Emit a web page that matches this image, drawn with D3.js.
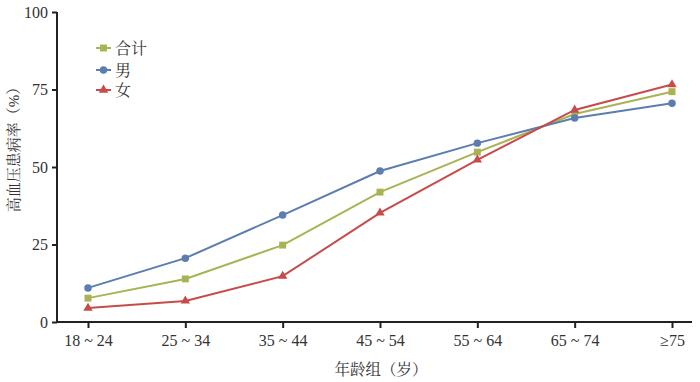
<!DOCTYPE html>
<html>
<head>
<meta charset="utf-8">
<script src="https://cdn.jsdelivr.net/npm/d3@7"></script>
<style>
body { margin: 0; background: #fff; }
svg text { font-family: "Liberation Serif", "Noto Serif CJK SC", "Noto Sans CJK SC", serif; fill: #333; }
</style>
</head>
<body>
<svg width="700" height="382"></svg>
<script>
// data
var ageGroups = ['18 ~ 24', '25 ~ 34', '35 ~ 44', '45 ~ 54', '55 ~ 64', '65 ~ 74', '≥75'];
var total  = [7.7, 13.9, 24.8, 41.9, 54.8, 67.1, 74.3];
var male   = [11.0, 20.6, 34.5, 48.7, 57.7, 65.8, 70.6];
var female = [4.5, 6.8, 14.8, 35.2, 52.3, 68.4, 76.6];
var yTicks = [0, 25, 50, 75, 100];

var series = [
    {name: '合计', values: total, color: '#a9b353', symbol: d3.symbolSquare, size: 48},
    {name: '男', values: male, color: '#5b7daf', symbol: d3.symbolCircle, size: 44},
    {name: '女', values: female, color: '#c84a4a', symbol: d3.symbolTriangle, size: 38}
];

var svg = d3.select('svg');

var x = d3.scalePoint().domain(ageGroups).range([88, 672]);
var y = d3.scaleLinear().domain([0, 100]).range([322, 12]);

// y axis
var yAxis = svg.append('g').attr('class', 'y axis')
    .attr('transform', 'translate(57,0)')
    .call(d3.axisLeft(y).tickValues(yTicks).tickSize(5).tickPadding(4));
yAxis.select('.domain').attr('stroke', '#222').attr('stroke-width', 2).attr('d', 'M0,12V322');
yAxis.selectAll('.tick line').attr('stroke', '#222').attr('stroke-width', 2);
yAxis.selectAll('.tick text').style('font-size', '16px');

// x axis
var xAxis = svg.append('g').attr('class', 'x axis')
    .attr('transform', 'translate(0,322)')
    .call(d3.axisBottom(x).tickSize(6).tickPadding(7));
xAxis.select('.domain').attr('stroke', '#222').attr('stroke-width', 2).attr('d', 'M56,0H692');
xAxis.selectAll('.tick line').attr('stroke', '#222').attr('stroke-width', 2);
xAxis.selectAll('.tick text').style('font-size', '16px');

// axis titles
svg.append('text')
    .attr('transform', 'translate(19,146) rotate(-90)')
    .attr('text-anchor', 'middle')
    .style('font-size', '15px')
    .text('高血压患病率（%）');

svg.append('text')
    .attr('x', 381).attr('y', 375)
    .attr('text-anchor', 'middle')
    .style('font-size', '15.5px')
    .text('年龄组（岁）');

// lines + markers
var line = d3.line()
    .x(function(d, i) { return x(ageGroups[i]); })
    .y(function(d) { return y(d); });

series.forEach(function(s) {
    svg.append('path')
        .attr('d', line(s.values))
        .attr('fill', 'none')
        .attr('stroke', s.color)
        .attr('stroke-width', 2);
    svg.selectAll(null)
        .data(s.values)
        .enter()
        .append('path')
        .attr('d', d3.symbol().type(s.symbol).size(s.size))
        .attr('fill', s.color)
        .attr('transform', function(d, i) {
            return 'translate(' + x(ageGroups[i]) + ',' + y(d) + ')';
        });
});

// legend
var legend = svg.selectAll('.legend')
    .data(series)
    .enter()
    .append('g')
    .attr('class', 'legend')
    .attr('transform', function(d, i) { return 'translate(96,' + [48, 70, 90][i] + ')'; });
legend.append('line')
    .attr('x1', 0).attr('x2', 15)
    .attr('stroke', function(d) { return d.color; })
    .attr('stroke-width', 2);
legend.append('path')
    .attr('d', function(d) { return d3.symbol().type(d.symbol).size(d.size)(); })
    .attr('transform', 'translate(7.5,0)')
    .attr('fill', function(d) { return d.color; });
legend.append('text')
    .attr('x', 19).attr('y', 5.5)
    .style('font-size', '16px')
    .text(function(d) { return d.name; });
</script>
</body>
</html>
